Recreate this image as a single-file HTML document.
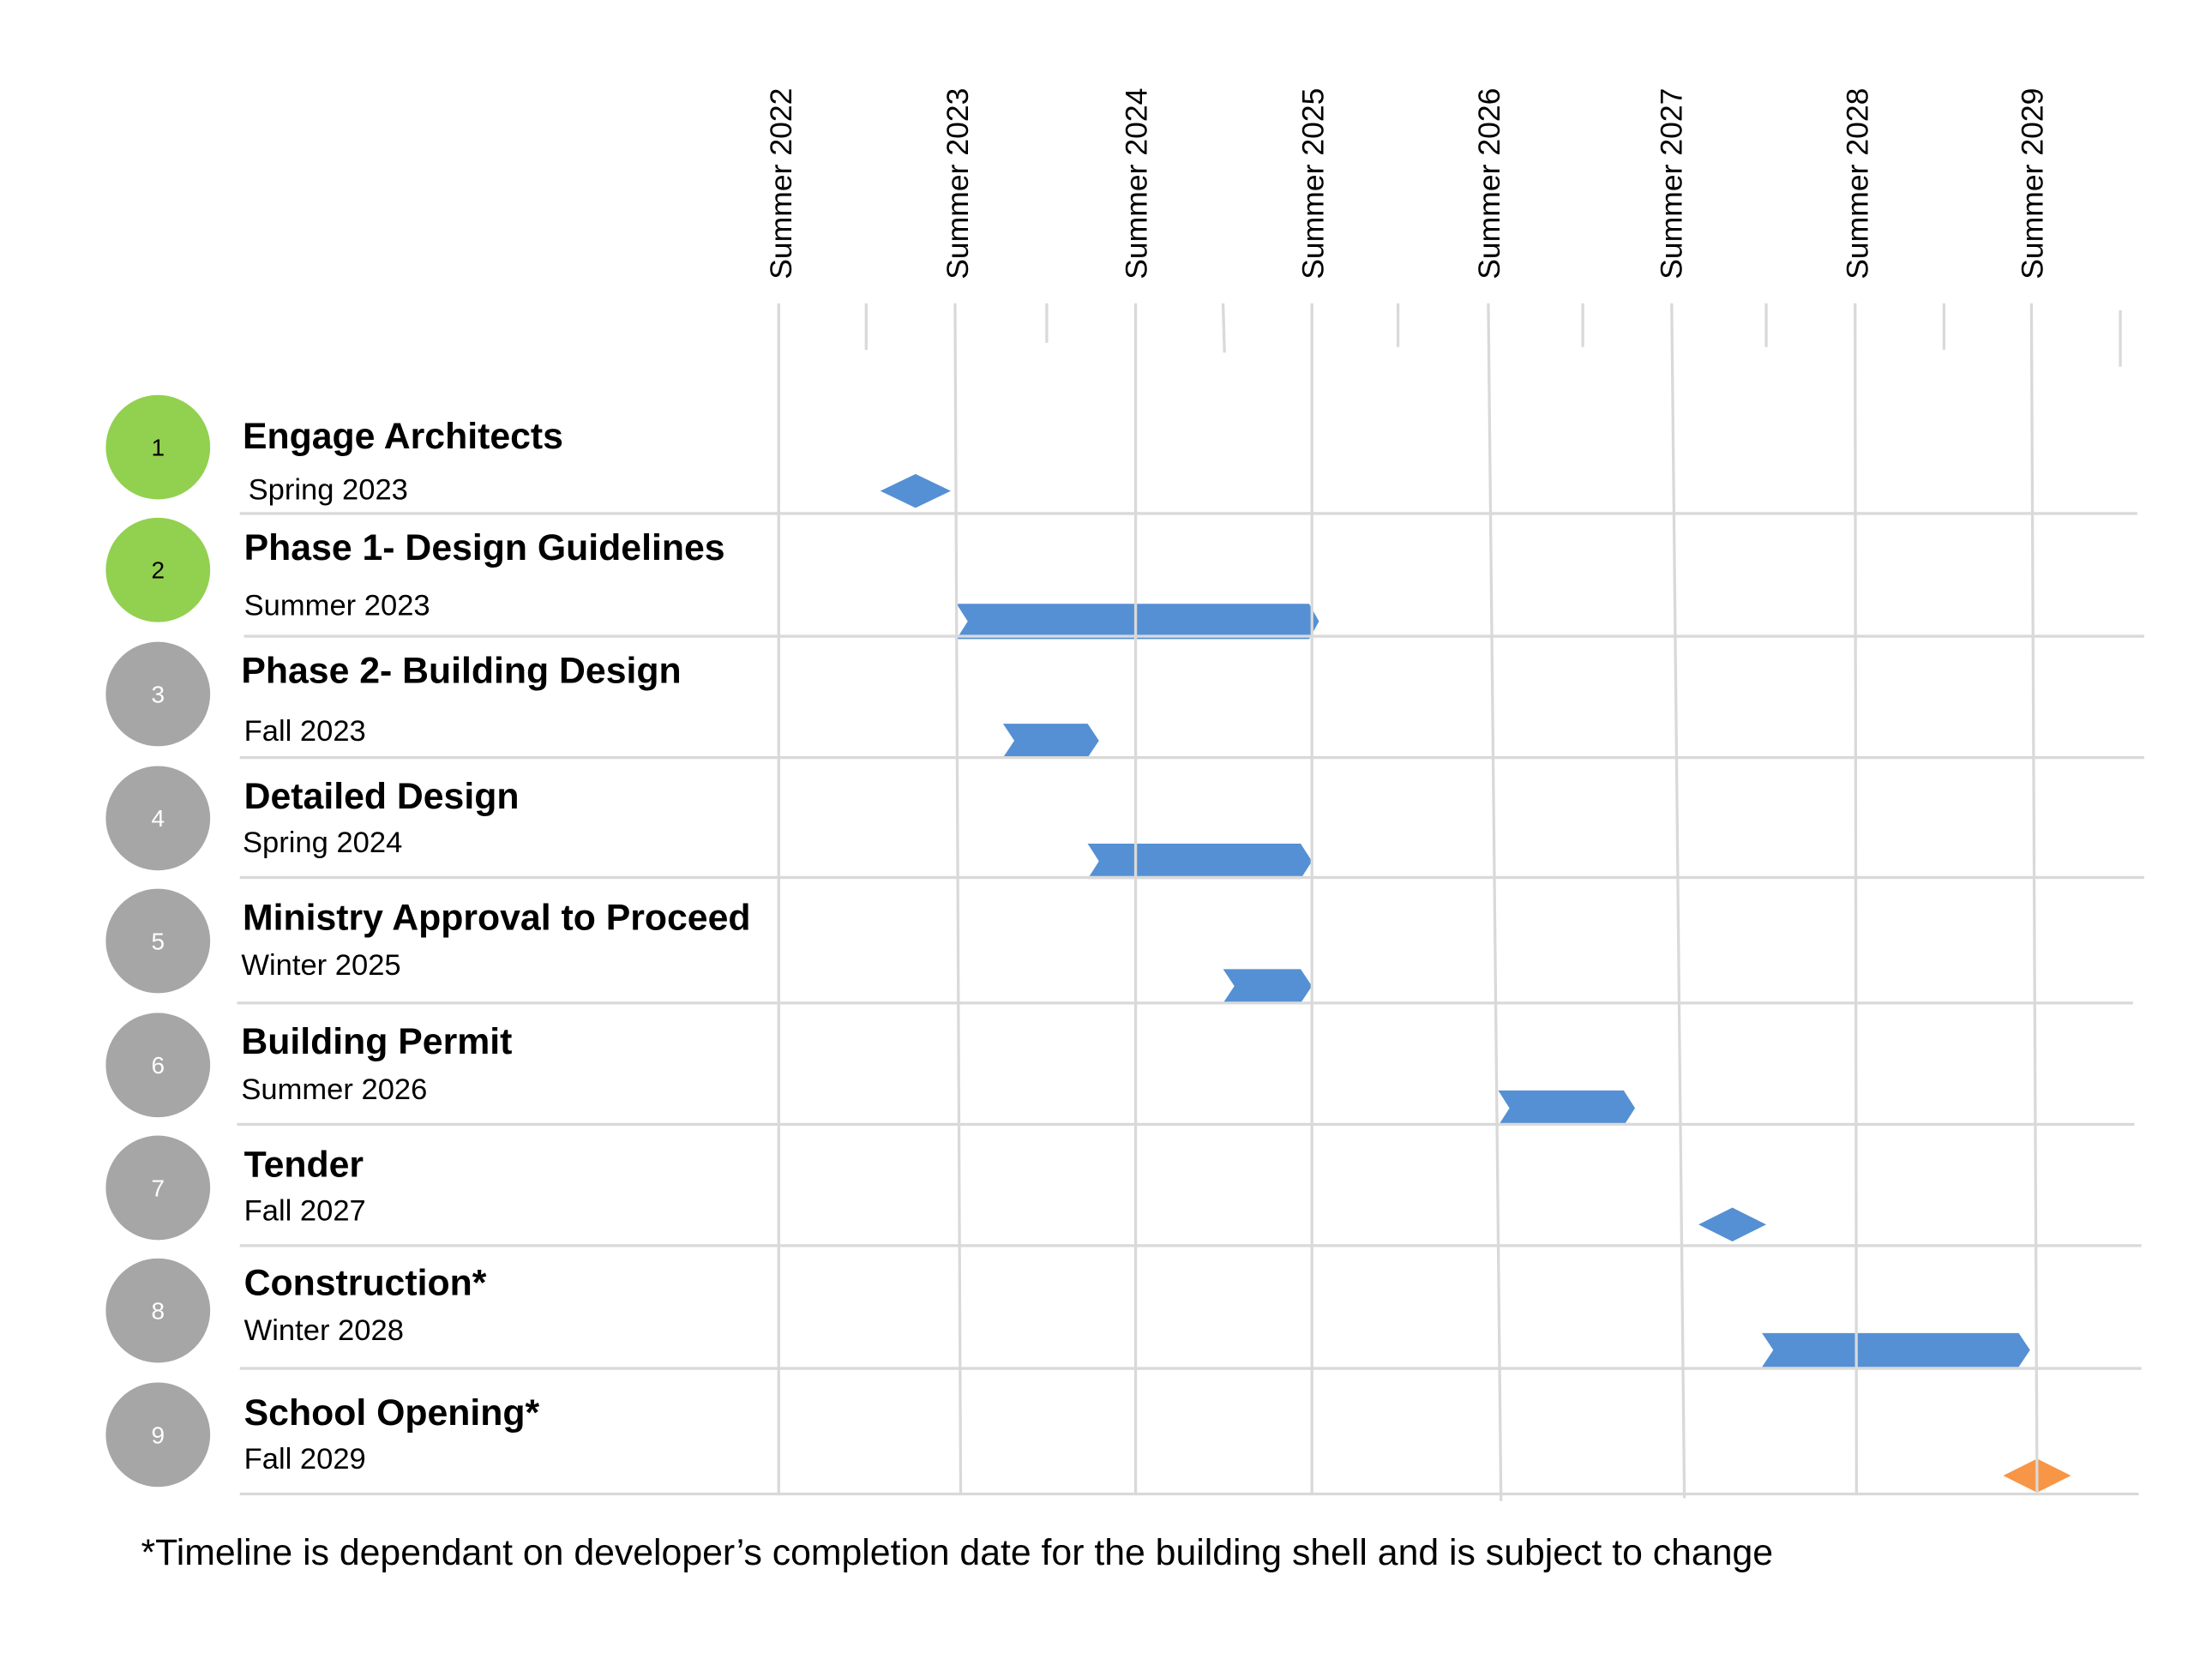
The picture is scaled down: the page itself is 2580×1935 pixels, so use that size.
<!DOCTYPE html>
<html><head><meta charset="utf-8"><style>
html,body{margin:0;padding:0;background:#fff;}
svg{display:block;}
text{font-family:"Liberation Sans",Arial,sans-serif;fill:#000;}
.t{font-weight:bold;font-size:26px;}
.s{font-size:21px;}
.n{font-size:17px;fill:#fff;}
.y{font-size:21.6px;}
</style></head><body>
<svg width="2580" height="1935" viewBox="0 0 1568 1176" xmlns="http://www.w3.org/2000/svg">
<rect width="1568" height="1176" fill="#fff"/>
<!-- bars -->
<g fill="#5590D4">
<polygon points="624,348 649,336 674,348 649,360"/>
<polygon points="678,428 928,428 935,440.5 928,453 678,453 686,440.5"/>
<polygon points="711,513 771,513 779,525 771,537 711,537 719,525"/>
<polygon points="771,598 922,598 930,610.5 922,623 771,623 779,610.5"/>
<polygon points="867,687 922,687 930,699 922,711 867,711 875,699"/>
<polygon points="1062,773 1151,773 1159,785.5 1151,798 1062,798 1070,785.5"/>
<polygon points="1204,868 1228,856 1252,868 1228,880"/>
<polygon points="1249,945 1431,945 1439,957 1431,969 1249,969 1257,957"/>
</g>
<polygon points="1420,1046 1444,1034 1468,1046 1444,1058" fill="#F79646"/>
<!-- grid -->
<g stroke="#D9D9D9" stroke-width="2" fill="none">
<line x1="552" y1="215" x2="552" y2="1060"/>
<line x1="677" y1="215" x2="681" y2="1060"/>
<line x1="805" y1="215" x2="805" y2="1060"/>
<line x1="930" y1="215" x2="930" y2="1060"/>
<line x1="1055" y1="215" x2="1064" y2="1064"/>
<line x1="1185" y1="215" x2="1194" y2="1062"/>
<line x1="1315" y1="215" x2="1316" y2="1060"/>
<line x1="1440" y1="215" x2="1444" y2="1060"/>
<line x1="614" y1="215" x2="614" y2="248"/>
<line x1="742" y1="215" x2="742" y2="243"/>
<line x1="867" y1="215" x2="868" y2="250"/>
<line x1="991" y1="215" x2="991" y2="246"/>
<line x1="1122" y1="215" x2="1122" y2="246"/>
<line x1="1252" y1="215" x2="1252" y2="246"/>
<line x1="1378" y1="215" x2="1378" y2="248"/>
<line x1="1503" y1="220" x2="1503" y2="260"/>
<line x1="170" y1="364" x2="1515" y2="364"/>
<line x1="173" y1="451" x2="1520" y2="451"/>
<line x1="170" y1="537" x2="1520" y2="537"/>
<line x1="170" y1="622" x2="1520" y2="622"/>
<line x1="168" y1="711" x2="1512" y2="711"/>
<line x1="168" y1="797" x2="1513" y2="797"/>
<line x1="170" y1="883" x2="1518" y2="883"/>
<line x1="170" y1="970" x2="1518" y2="970"/>
<line x1="170" y1="1059" x2="1516" y2="1059"/>
</g>
<!-- year labels -->
<g>
<text class="y" transform="translate(561,198) rotate(-90)">Summer 2022</text>
<text class="y" transform="translate(686,198) rotate(-90)">Summer 2023</text>
<text class="y" transform="translate(813,198) rotate(-90)">Summer 2024</text>
<text class="y" transform="translate(938,198) rotate(-90)">Summer 2025</text>
<text class="y" transform="translate(1063,198) rotate(-90)">Summer 2026</text>
<text class="y" transform="translate(1192,198) rotate(-90)">Summer 2027</text>
<text class="y" transform="translate(1324,198) rotate(-90)">Summer 2028</text>
<text class="y" transform="translate(1448,198) rotate(-90)">Summer 2029</text>
</g>
<!-- circles -->
<g fill="#A6A6A6">
<circle cx="112" cy="317" r="37" fill="#92D050"/>
<circle cx="112" cy="404" r="37" fill="#92D050"/>
<circle cx="112" cy="492" r="37"/>
<circle cx="112" cy="580" r="37"/>
<circle cx="112" cy="667" r="37"/>
<circle cx="112" cy="755" r="37"/>
<circle cx="112" cy="842" r="37"/>
<circle cx="112" cy="929" r="37"/>
<circle cx="112" cy="1017" r="37"/>
</g>
<g text-anchor="middle">
<text class="n" x="112" y="323" style="fill:#000">1</text>
<text class="n" x="112" y="410" style="fill:#000">2</text>
<text class="n" x="112" y="498">3</text>
<text class="n" x="112" y="586">4</text>
<text class="n" x="112" y="673">5</text>
<text class="n" x="112" y="761">6</text>
<text class="n" x="112" y="848">7</text>
<text class="n" x="112" y="935">8</text>
<text class="n" x="112" y="1023">9</text>
</g>
<!-- titles -->
<text class="t" x="172" y="318">Engage Architects</text>
<text class="s" x="176" y="354">Spring 2023</text>
<text class="t" x="173" y="397">Phase 1- Design Guidelines</text>
<text class="s" x="173" y="436">Summer 2023</text>
<text class="t" x="171" y="484">Phase 2- Building Design</text>
<text class="s" x="173" y="525">Fall 2023</text>
<text class="t" x="173" y="573">Detailed Design</text>
<text class="s" x="172" y="604">Spring 2024</text>
<text class="t" x="172" y="659">Ministry Approval to Proceed</text>
<text class="s" x="171" y="691">Winter 2025</text>
<text class="t" x="171" y="747">Building Permit</text>
<text class="s" x="171" y="779">Summer 2026</text>
<text class="t" x="173" y="834">Tender</text>
<text class="s" x="173" y="865">Fall 2027</text>
<text class="t" x="173" y="918">Construction*</text>
<text class="s" x="173" y="950">Winter 2028</text>
<text class="t" x="173" y="1010">School Opening*</text>
<text class="s" x="173" y="1041">Fall 2029</text>
<text x="100" y="1109" style="font-size:26px">*Timeline is dependant on developer’s completion date for the building shell and is subject to change</text>
</svg>
</body></html>
